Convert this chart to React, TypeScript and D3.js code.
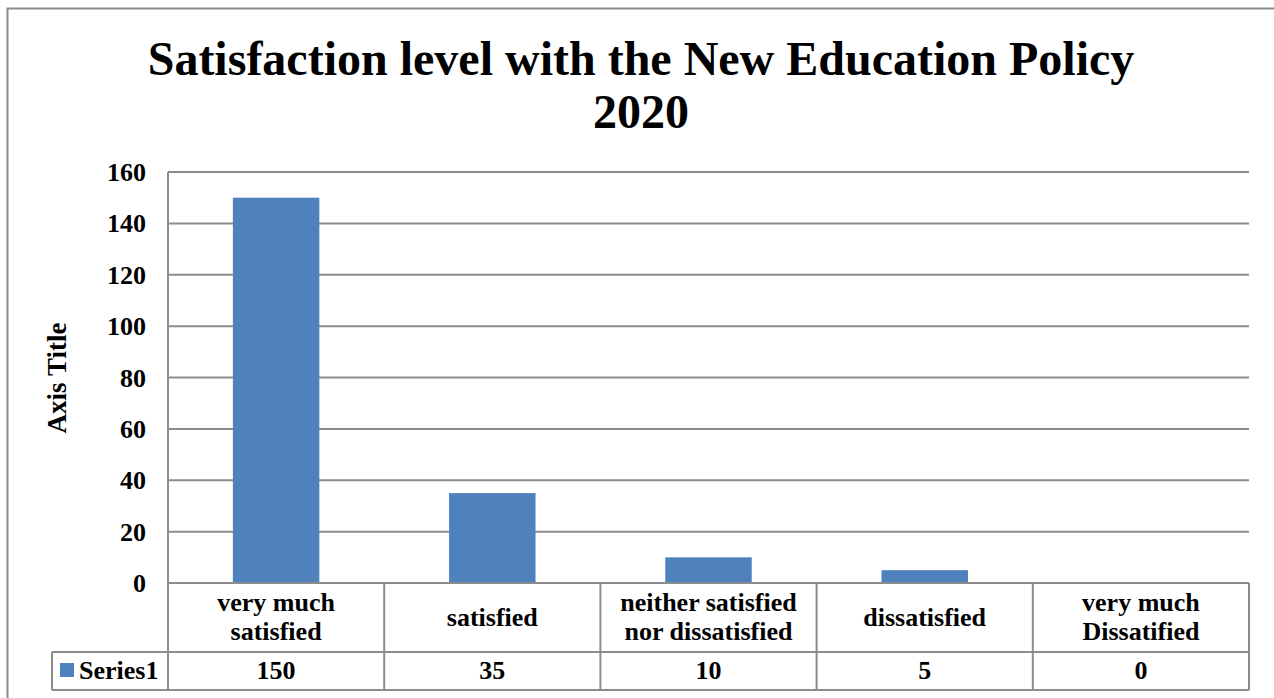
import React from "react";
import * as d3 from "d3";

const categories = [
  ["very much", "satisfied"],
  ["satisfied"],
  ["neither satisfied", "nor dissatisfied"],
  ["dissatisfied"],
  ["very much", "Dissatified"],
];
const categoryKeys = ["very much satisfied", "satisfied", "neither satisfied nor dissatisfied", "dissatisfied", "very much Dissatified"];
const series1 = [150, 35, 10, 5, 0];
const yTicks = [0, 20, 40, 60, 80, 100, 120, 140, 160];
const titleLines = ["Satisfaction level with the New Education Policy", "2020"];
const seriesName = "Series1";
const yAxisTitle = "Axis Title";

const W = 1274;
const H = 698;
const left = 168;
const right = 1249;
const top = 172;
const bottom = 583;
const catRowBottom = 652;
const seriesRowBottom = 690;
const tableLeft = 52;
const FONT = "Liberation Serif, Times New Roman, Times, serif";
const GRID = "#8c8c8c";
const BAR = "#4F81BD";
const ts = { fontFamily: FONT, fontWeight: 700 } as React.CSSProperties;

export default function App() {
  const x = d3.scaleBand<string>().domain(categoryKeys).range([left, right]).padding(0);
  const y = d3.scaleLinear().domain([0, 160]).range([bottom, top]);
  const bw = x.bandwidth() * 0.4;
  return (
    <svg width={W} height={H} style={{ position: "absolute", left: 0, top: 0, display: "block" }}>
      <rect x={0} y={0} width={W} height={H} fill="#fff" />
      <rect x={7.5} y={8.5} width={W + 10} height={H + 10} fill="none" stroke={GRID} strokeWidth={2} />
      {titleLines.map((t, i) => (
        <text key={i} x={641} y={75 + i * 53} textAnchor="middle" style={{ ...ts, fontSize: 48 }} fill="#000">
          {t}
        </text>
      ))}
      {yTicks.map((t) => (
        <g key={t}>
          <line x1={left} x2={right} y1={y(t)} y2={y(t)} stroke={GRID} strokeWidth={2} />
          <text x={146} y={y(t) + 9} textAnchor="end" style={{ ...ts, fontSize: 26 }}>
            {t}
          </text>
        </g>
      ))}
      <text transform={`translate(66,378) rotate(-90)`} textAnchor="middle" style={{ ...ts, fontSize: 27 }}>
        {yAxisTitle}
      </text>
      {categoryKeys.map((k, i) => (
        <rect key={k} x={x(k)! + (x.bandwidth() - bw) / 2} y={y(series1[i])} width={bw} height={bottom - y(series1[i])} fill={BAR} />
      ))}
      <line x1={left} x2={left} y1={top} y2={seriesRowBottom} stroke={GRID} strokeWidth={2} />
      <line x1={left} x2={right} y1={bottom} y2={bottom} stroke={GRID} strokeWidth={2} />
      <line x1={tableLeft} x2={right} y1={catRowBottom} y2={catRowBottom} stroke={GRID} strokeWidth={2} />
      <line x1={tableLeft} x2={right} y1={seriesRowBottom} y2={seriesRowBottom} stroke={GRID} strokeWidth={2} />
      <line x1={tableLeft} x2={tableLeft} y1={catRowBottom} y2={seriesRowBottom} stroke={GRID} strokeWidth={2} />
      {categoryKeys.map((k) => (
        <line key={k} x1={x(k)! + x.bandwidth()} x2={x(k)! + x.bandwidth()} y1={bottom} y2={seriesRowBottom} stroke={GRID} strokeWidth={2} />
      ))}
      {categoryKeys.map((k, i) => {
        const lines = categories[i];
        const cx = x(k)! + x.bandwidth() / 2;
        const lh = 29;
        const mid = (bottom + catRowBottom) / 2;
        const y0 = mid - ((lines.length - 1) * lh) / 2 + 8;
        return (
          <text key={k} textAnchor="middle" style={{ ...ts, fontSize: 26 }}>
            {lines.map((l, j) => (
              <tspan key={j} x={cx} y={y0 + j * lh}>
                {l}
              </tspan>
            ))}
          </text>
        );
      })}
      <rect x={60} y={663} width={14} height={14} fill={BAR} />
      <text x={79} y={679} style={{ ...ts, fontSize: 26 }}>
        {seriesName}
      </text>
      {categoryKeys.map((k, i) => (
        <text key={k} x={x(k)! + x.bandwidth() / 2} y={679} textAnchor="middle" style={{ ...ts, fontSize: 26 }}>
          {series1[i]}
        </text>
      ))}
    </svg>
  );
}
